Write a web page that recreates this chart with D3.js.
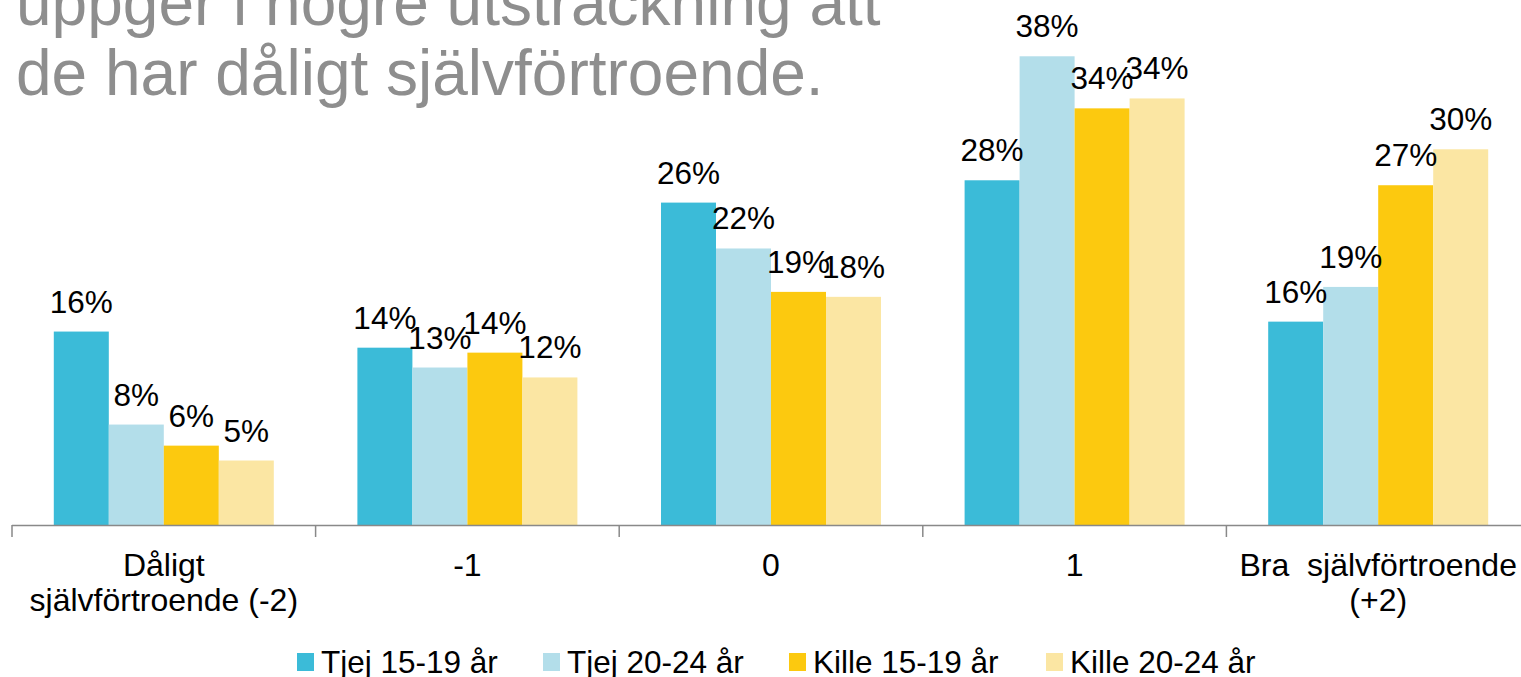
<!DOCTYPE html>
<html>
<head>
<meta charset="utf-8">
<script src="https://cdn.jsdelivr.net/npm/d3@7"></script>
<style>
  html, body { margin: 0; padding: 0; background: #fff; overflow: hidden; }
  svg { display: block; font-family: "Liberation Sans", Arial, sans-serif; }
</style>
</head>
<body>
<div id="chart"></div>
<script>
// values (percent)
const categories = ["Dåligt självförtroende (-2)", "-1", "0", "1", "Bra  självförtroende (+2)"];
const tickLabels = [["Dåligt", "självförtroende (-2)"], ["-1"], ["0"], ["1"], ["Bra  självförtroende", "(+2)"]];
const seriesNames = ["Tjej 15-19 år", "Tjej 20-24 år", "Kille 15-19 år", "Kille 20-24 år"];
const tjej1519  = [15.6, 14.3, 26.0, 27.8, 16.4];
const tjej2024  = [8.1, 12.7, 22.3, 37.8, 19.2];
const kille1519 = [6.4, 13.9, 18.8, 33.6, 27.4];
const kille2024 = [5.2, 11.9, 18.4, 34.4, 30.3];
const colors = ["#3bbbd8", "#b3deea", "#fcc90f", "#fbe6a3"];

const series = [tjej1519, tjej2024, kille1519, kille2024];
const W = 1521, H = 677;

const svg = d3.select("#chart").append("svg")
    .attr("width", W).attr("height", H);

// title (top of it is cut off in the original slide)
const title = svg.append("text")
    .attr("fill", "#8e8e8e")
    .style("font-size", "64px");
title.append("tspan").attr("x", 16).attr("y", 25).text("uppger i högre utsträckning att");
title.append("tspan").attr("x", 16).attr("y", 95).text("de har dåligt självförtroende.");

const base = 525;
const x0 = d3.scaleBand().domain(categories).range([12, 12 + 5 * 303.6]).paddingInner(0).paddingOuter(0);
const x1 = d3.scaleBand().domain(d3.range(4)).range([0, x0.bandwidth()]).paddingInner(0).paddingOuter(0.76);
const y = d3.scaleLinear().domain([0, 40]).range([base, base - 496]);

const g = svg.selectAll("g.grp").data(categories).enter().append("g")
    .attr("class", "grp")
    .attr("transform", d => `translate(${x0(d)},0)`);

g.selectAll("rect").data((d, i) => series.map((s, k) => ({ k, v: s[i] })))
  .enter().append("rect")
    .attr("x", d => x1(d.k))
    .attr("width", x1.bandwidth())
    .attr("y", d => y(d.v))
    .attr("height", d => base - y(d.v))
    .attr("fill", d => colors[d.k]);

g.selectAll("text.val").data((d, i) => series.map((s, k) => ({ k, v: s[i] })))
  .enter().append("text")
    .attr("class", "val")
    .attr("x", d => x1(d.k) + x1.bandwidth() / 2)
    .attr("y", d => y(d.v) - 19)
    .attr("text-anchor", "middle")
    .style("font-size", "31.5px")
    .attr("fill", "#000")
    .text(d => Math.round(d.v) + "%");

// axis line + boundary ticks
const axis = svg.append("g").attr("transform", `translate(0,${base})`);
axis.append("line").attr("x1", 12).attr("x2", W).attr("y1", 0.5).attr("y2", 0.5)
    .attr("stroke", "#898989").attr("stroke-width", 1.5);
const bounds = categories.map(c => x0(c));
axis.selectAll("line.tk").data(bounds).enter().append("line")
    .attr("class", "tk")
    .attr("x1", d => d).attr("x2", d => d)
    .attr("y1", 0).attr("y2", 12)
    .attr("stroke", "#898989").attr("stroke-width", 1.5);

const lab = axis.selectAll("text.cat").data(categories).enter().append("text")
    .attr("class", "cat")
    .attr("text-anchor", "middle")
    .style("font-size", "32px")
    .attr("fill", "#000");
lab.each(function(d, i) {
  const t = d3.select(this);
  tickLabels[i].forEach((line, j) => {
    t.append("tspan").attr("x", x0(d) + x0.bandwidth() / 2).attr("y", 51 + j * 35)
      .style("white-space", "pre").text(line);
  });
});

// legend
const legX = [297, 543, 789, 1046];
const leg = svg.selectAll("g.leg").data(seriesNames).enter().append("g")
    .attr("class", "leg")
    .attr("transform", (d, i) => `translate(${legX[i]},653)`);
leg.append("rect").attr("width", 17).attr("height", 18).attr("fill", (d, i) => colors[i]);
leg.append("text").attr("x", 24).attr("y", 20)
    .style("font-size", "31.5px").attr("fill", "#000")
    .text(d => d);
</script>
</body>
</html>
